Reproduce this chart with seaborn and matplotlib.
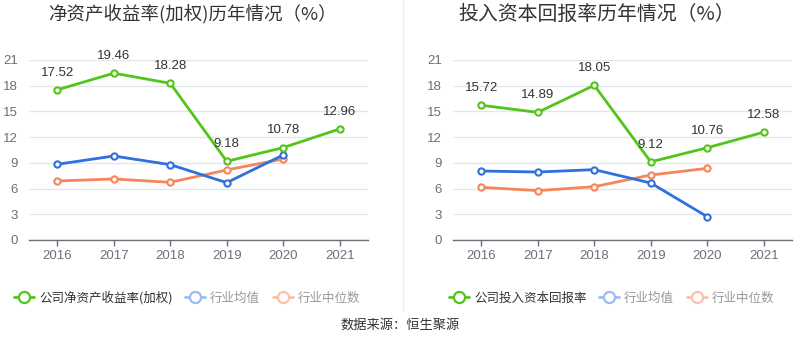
import numpy as np
import pandas as pd
import matplotlib
matplotlib.use("Agg")
import matplotlib.pyplot as plt
import seaborn as sns
from matplotlib.lines import Line2D

years = ["2016", "2017", "2018", "2019", "2020", "2021"]

# 净资产收益率(加权)
roe_company = [17.52, 19.46, 18.28, 9.18, 10.78, 12.96]
roe_ind_mean = [8.83, 9.80, 8.79, 6.69, 9.92, np.nan]
roe_ind_median = [6.88, 7.12, 6.73, 8.17, 9.45, np.nan]

# 投入资本回报率
roic_company = [15.72, 14.89, 18.05, 9.12, 10.76, 12.58]
roic_ind_mean = [8.05, 7.93, 8.21, 6.65, 2.72, np.nan]
roic_ind_median = [6.15, 5.76, 6.22, 7.58, 8.36, np.nan]

yticks = [0, 3, 6, 9, 12, 15, 18, 21]

GREEN = "#52C41A"
BLUE = "#2F6FE0"
ORANGE = "#F7855A"
BLUE_L = "#9DBBF3"
ORANGE_L = "#FBC1A8"
NUM_FONT = ["Liberation Sans", "DejaVu Sans"]

sns.set_theme(style="white")
plt.rcParams["font.family"] = ["Noto Sans CJK SC", "DejaVu Sans"]

fig = plt.figure(figsize=(8, 3.58), dpi=100)
ax1 = fig.add_axes([29 / 800, 1 - 240 / 358, 339 / 800, 180 / 358])
ax2 = fig.add_axes([453 / 800, 1 - 240 / 358, 339 / 800, 180 / 358])


def draw(ax, company, mean, median, title, title_x, title_size):
    df = pd.DataFrame({
        "x": np.arange(len(years)),
        "company": company,
        "mean": mean,
        "median": median,
    })
    for col, color, z in [("median", ORANGE, 3), ("mean", BLUE, 4), ("company", GREEN, 5)]:
        sub = df.dropna(subset=[col])
        sns.lineplot(data=sub, x="x", y=col, ax=ax, color=color, lw=2,
                     marker="o", markersize=4.5, markerfacecolor="white",
                     markeredgecolor=color, markeredgewidth=1.5, zorder=z)
    for xi, v in zip(df["x"], company):
        ax.annotate(f"{v:.2f}", (xi, v), xytext=(0, 8), textcoords="offset points",
                    ha="center", va="bottom", fontsize=9.5, color="#333333",
                    family=NUM_FONT, zorder=6)
    ax.set_xlim(-0.5, len(years) - 0.5)
    ax.set_ylim(0, 21)
    ax.set_xticks(range(len(years)))
    ax.set_xticklabels(years, family=NUM_FONT)
    ax.set_yticks(yticks)
    ax.set_yticklabels([str(t) for t in yticks], family=NUM_FONT)
    ax.set_xlabel("")
    ax.set_ylabel("")
    ax.grid(axis="y", color="#E0E6F1", lw=1)
    ax.set_axisbelow(True)
    for s in ["top", "right", "left"]:
        ax.spines[s].set_visible(False)
    ax.spines["bottom"].set_color("#6E7079")
    ax.spines["bottom"].set_linewidth(1)
    ax.tick_params(axis="x", length=4, width=1, color="#6E7079", colors="#6E7079",
                   labelsize=9.5, pad=3, bottom=True)
    ax.tick_params(axis="y", length=0, colors="#6E7079", labelsize=9.5, pad=8)
    for lab in ax.get_xticklabels() + ax.get_yticklabels():
        lab.set_color("#6E7079")
    fig.text(title_x, 1 - 14 / 358, title, ha="center", va="center",
             fontsize=title_size, color="#333333")


draw(ax1, roe_company, roe_ind_mean, roe_ind_median,
     "净资产收益率(加权)历年情况（%）", 192 / 800, 13.3)
draw(ax2, roic_company, roic_ind_mean, roic_ind_median,
     "投入资本回报率历年情况（%）", 597 / 800, 14.3)

# divider
fig.add_artist(Line2D([403 / 800, 403 / 800], [1 - 310 / 358, 1.0],
                      transform=fig.transFigure, color="#EEEEEE", lw=1))


def handle(color):
    return Line2D([0], [0], color=color, lw=2, marker="o", markersize=8,
                  markerfacecolor="white", markeredgecolor=color, markeredgewidth=1.6)


def legend(labels, x):
    hs = [handle(GREEN), handle(BLUE_L), handle(ORANGE_L)]
    leg = fig.legend(hs, labels, loc="center left",
                     bbox_to_anchor=(x, 1 - 298 / 358), ncol=3, frameon=False,
                     fontsize=9, handlelength=1.6, handletextpad=0.4,
                     columnspacing=1.0, borderpad=0, borderaxespad=0)
    for i, t in enumerate(leg.get_texts()):
        t.set_color("#333333" if i == 0 else "#999999")


legend(["公司净资产收益率(加权)", "行业均值", "行业中位数"], 14 / 800)
legend(["公司投入资本回报率", "行业均值", "行业中位数"], 449 / 800)

fig.text(0.5, 1 - 325 / 358, "数据来源：恒生聚源", ha="center", va="center",
         fontsize=9.5, color="#333333")

fig.savefig("out.png", dpi=100)
